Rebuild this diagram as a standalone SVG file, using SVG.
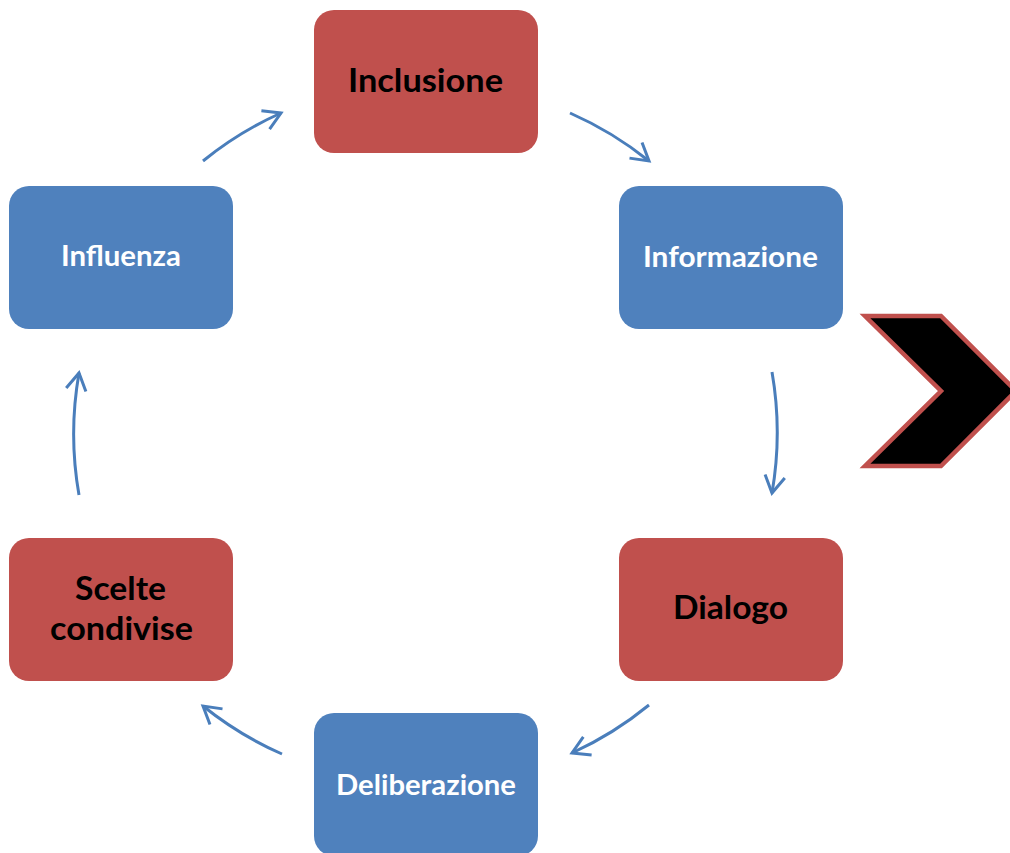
<svg xmlns="http://www.w3.org/2000/svg" width="1010" height="853" viewBox="0 0 1010 853">
  <style>
    .red { fill: #C0504D; }
    .blue { fill: #4F81BD; }
    .lbl { font-family: Lato, "Open Sans", "Liberation Sans", sans-serif; font-weight: bold; text-anchor: middle; }
    .dark { fill: #000000; font-size: 33px; }
    .light { fill: #FFFFFF; font-size: 28px; }
    .conn { fill: none; stroke: #4A7EBB; stroke-width: 3; marker-end: url(#open); }
  </style>
  <defs>
    <marker id="open" markerUnits="userSpaceOnUse" viewBox="-22 -14 26 28" markerWidth="26" markerHeight="28" refX="0" refY="0" orient="auto">
      <path d="M-17,-10 L0,0 L-17,10" fill="none" stroke="#4A7EBB" stroke-width="3"/>
    </marker>
  </defs>
  <rect width="1010" height="853" fill="#FFFFFF"/>

  <g id="connectors">
    <path class="conn" d="M203,161 A352,352 0 0 1 281,113"/>
    <path class="conn" d="M570,113 A352,352 0 0 1 649,161"/>
    <path class="conn" d="M772,372 A352,352 0 0 1 772,493"/>
    <path class="conn" d="M649,705 A352,352 0 0 1 572,753"/>
    <path class="conn" d="M282,754 A352,352 0 0 1 203,706"/>
    <path class="conn" d="M79,495 A352,352 0 0 1 79,373"/>
  </g>

  <g id="node-inclusione">
    <rect class="red" x="314" y="10" width="224" height="143" rx="20"/>
    <text class="lbl dark" x="425.5" y="92" textLength="155" lengthAdjust="spacingAndGlyphs">Inclusione</text>
  </g>
  <g id="node-informazione">
    <rect class="blue" x="619" y="186" width="224" height="143" rx="20"/>
    <text class="lbl light" x="730.5" y="267" textLength="175" lengthAdjust="spacingAndGlyphs">Informazione</text>
  </g>
  <g id="node-dialogo">
    <rect class="red" x="619" y="538" width="224" height="143" rx="20"/>
    <text class="lbl dark" x="730.5" y="619" textLength="115" lengthAdjust="spacingAndGlyphs">Dialogo</text>
  </g>
  <g id="node-deliberazione">
    <rect class="blue" x="314" y="713" width="224" height="143" rx="20"/>
    <text class="lbl light" x="426" y="795" textLength="180" lengthAdjust="spacingAndGlyphs">Deliberazione</text>
  </g>
  <g id="node-scelte">
    <rect class="red" x="9" y="538" width="224" height="143" rx="20"/>
    <text class="lbl dark" x="120.5" y="600" textLength="91" lengthAdjust="spacingAndGlyphs">Scelte</text>
    <text class="lbl dark" x="121.5" y="640" textLength="143" lengthAdjust="spacingAndGlyphs">condivise</text>
  </g>
  <g id="node-influenza">
    <rect class="blue" x="9" y="186" width="224" height="143" rx="20"/>
    <text class="lbl light" x="121" y="266" textLength="120" lengthAdjust="spacingAndGlyphs">Influenza</text>
  </g>

  <g id="chevron">
    <polygon points="865,316 941,316 1016,391 941,466 865,466 941,391" fill="#000000" stroke="#C0504D" stroke-width="4.5" stroke-linejoin="miter"/>
  </g>
</svg>
